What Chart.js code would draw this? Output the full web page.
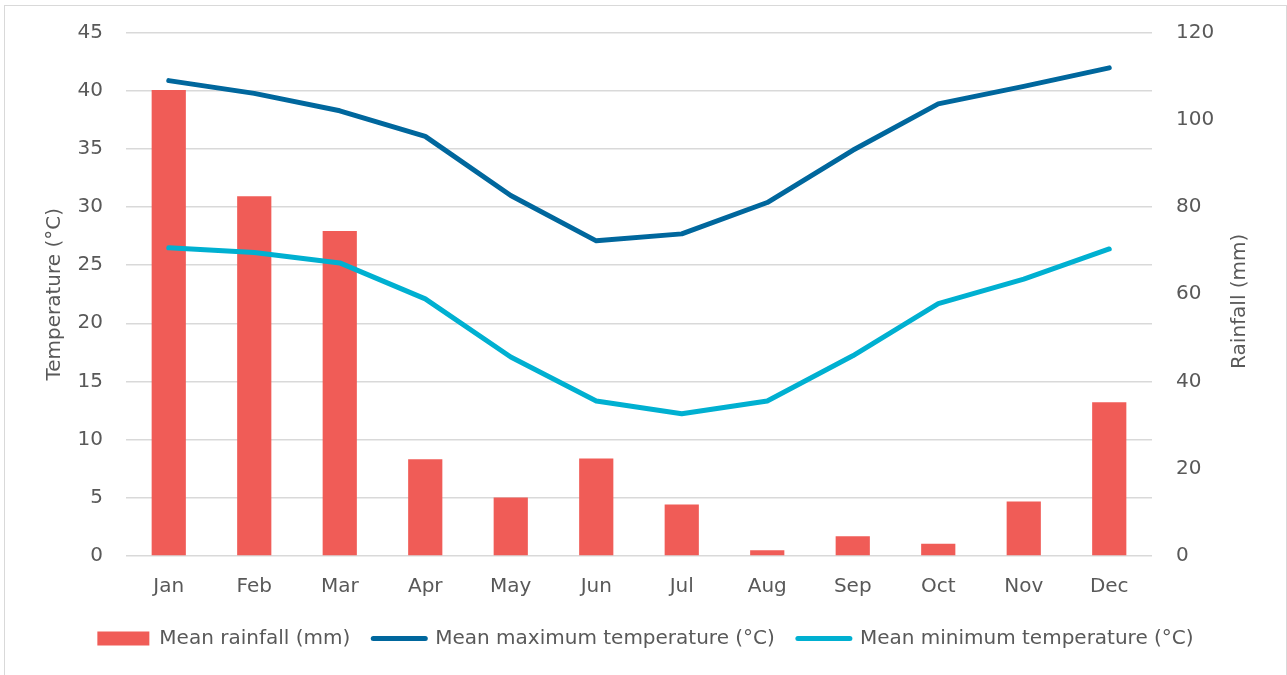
<!DOCTYPE html>
<html>
<head>
<meta charset="utf-8">
<script src="https://cdn.jsdelivr.net/npm/chart.js@4"></script>
<style>
  html, body { margin: 0; padding: 0; background: #fff; }
  #frame {
    position: absolute; left: 4px; top: 5px;
    width: 1281px; height: 680px;
    border: 1px solid #d9d9d9;
  }
  canvas { display: block; }
</style>
</head>
<body>
<div id="frame"><canvas id="climateChart" width="1281" height="669"></canvas></div>
<script>
// ======================
// Data
// ======================
const months = ["Jan", "Feb", "Mar", "Apr", "May", "Jun", "Jul", "Aug", "Sep", "Oct", "Nov", "Dec"];
const rainfall = [106.9, 82.5, 74.5, 22.1, 13.3, 22.3, 11.7, 1.2, 4.4, 2.7, 12.4, 35.2];
const maxTemp = [40.9, 39.8, 38.3, 36.1, 31.0, 27.1, 27.7, 30.4, 34.9, 38.9, 40.4, 42.0];
const minTemp = [26.5, 26.1, 25.2, 22.1, 17.1, 13.3, 12.2, 13.3, 17.2, 21.7, 23.8, 26.4];
const tempTicks = [0, 5, 10, 15, 20, 25, 30, 35, 40, 45];
const rainTicks = [0, 20, 40, 60, 80, 100, 120];

const TEXT = "#595959";
const FONT = "'DejaVu Sans', sans-serif";
const SIZE = 20;

// right axis title reads bottom-to-top like Excel
const rightTitle = {
    id: "rightTitle",
    afterDraw(chart) {
        const { ctx, chartArea } = chart;
        ctx.save();
        ctx.translate(1235, (chartArea.top + chartArea.bottom) / 2 + 7);
        ctx.rotate(-Math.PI / 2);
        ctx.font = SIZE + "px " + FONT;
        ctx.fillStyle = TEXT;
        ctx.textAlign = "center";
        ctx.textBaseline = "middle";
        ctx.fillText("Rainfall (mm)", 0, 0);
        ctx.restore();
    }
};

// fixed axis box, no extra label padding above/below
function fixY(width) {
    return scale => {
        scale.width = width;
        scale.paddingTop = 0;
        scale.paddingBottom = 0;
    };
}

const ctx = document.getElementById("climateChart").getContext("2d");

new Chart(ctx, {
    data: {
        labels: months,
        datasets: [
            {
                type: "bar",
                label: "Mean rainfall (mm)",
                data: rainfall,
                yAxisID: "yRain",
                backgroundColor: "#f05c57",
                categoryPercentage: 1,
                barPercentage: 0.4,
                order: 3
            },
            {
                type: "line",
                label: "Mean maximum temperature (°C)",
                data: maxTemp,
                yAxisID: "yTemp",
                borderColor: "#00679d",
                backgroundColor: "#00679d",
                borderWidth: 5,
                tension: 0,
                pointRadius: 0,
                borderCapStyle: "round",
                borderJoinStyle: "round",
                order: 1
            },
            {
                type: "line",
                label: "Mean minimum temperature (°C)",
                data: minTemp,
                yAxisID: "yTemp",
                borderColor: "#00b0d1",
                backgroundColor: "#00b0d1",
                borderWidth: 5,
                tension: 0,
                pointRadius: 0,
                borderCapStyle: "round",
                borderJoinStyle: "round",
                order: 2
            }
        ]
    },
    options: {
        responsive: false,
        animation: false,
        layout: { padding: { top: 27, bottom: 16.5, left: 0, right: 0 } },
        plugins: {
            tooltip: { enabled: false },
            legend: {
                position: "bottom",
                labels: {
                    usePointStyle: true,
                    pointStyleWidth: 52,
                    boxHeight: 14,
                    padding: 23,
                    color: TEXT,
                    font: { size: SIZE, family: FONT },
                    generateLabels(chart) {
                        return chart.data.datasets.map((ds, i) => ({
                            text: ds.label,
                            fillStyle: ds.backgroundColor,
                            strokeStyle: ds.type === "bar" ? ds.backgroundColor : ds.borderColor,
                            lineWidth: ds.type === "bar" ? 0 : 5,
                            lineCap: "round",
                            pointStyle: ds.type === "bar" ? "rect" : "line",
                            fontColor: TEXT,
                            hidden: false,
                            datasetIndex: i
                        }));
                    }
                }
            }
        },
        scales: {
            x: {
                grid: { display: false },
                border: { display: false },
                ticks: {
                    color: TEXT,
                    padding: 11,
                    font: { size: SIZE, family: FONT }
                },
                afterFit(scale) { scale.height = 50; }
            },
            yTemp: {
                position: "left",
                min: 0,
                max: 45,
                afterBuildTicks(scale) { scale.ticks = tempTicks.map(v => ({ value: v })); },
                grid: { color: "#d9d9d9", lineWidth: 1.5, drawTicks: false },
                border: { display: false },
                ticks: {
                    color: TEXT,
                    padding: 23,
                    font: { size: SIZE, family: FONT }
                },
                title: {
                    display: true,
                    text: "Temperature (°C)",
                    color: TEXT,
                    font: { size: SIZE, family: FONT },
                    padding: { top: 38, bottom: 0 }
                },
                afterFit: fixY(121)
            },
            yRain: {
                position: "right",
                min: 0,
                max: 120,
                afterBuildTicks(scale) { scale.ticks = rainTicks.map(v => ({ value: v })); },
                grid: { display: false, drawTicks: false },
                border: { display: false },
                ticks: {
                    color: TEXT,
                    padding: 24,
                    font: { size: SIZE, family: FONT }
                },
                afterFit: fixY(134)
            }
        }
    },
    plugins: [rightTitle]
});
</script>
</body>
</html>
